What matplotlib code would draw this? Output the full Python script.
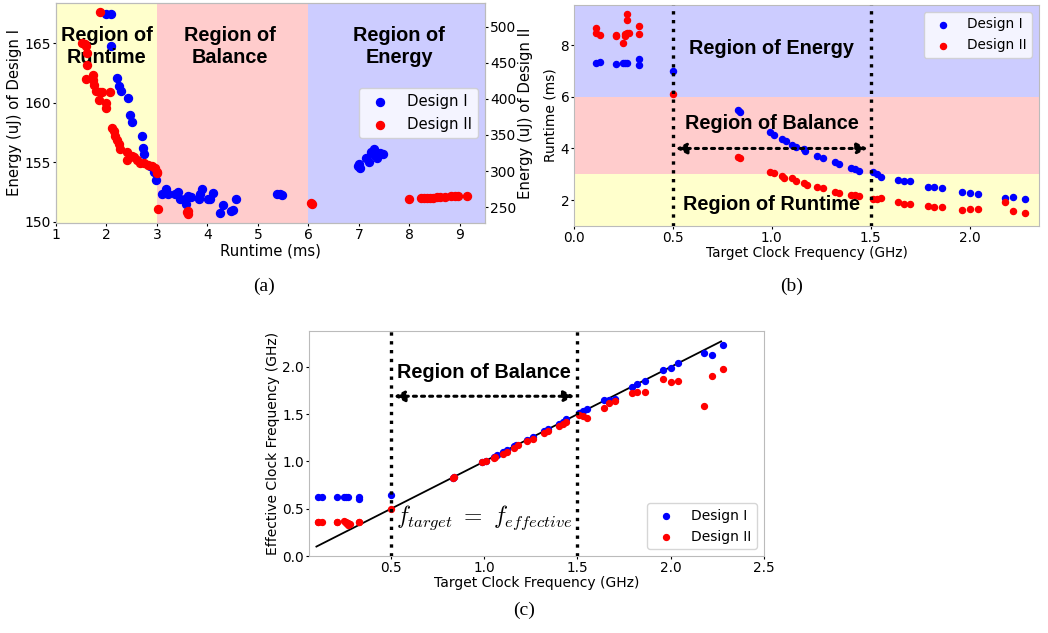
import matplotlib
matplotlib.use('Agg')
import matplotlib.pyplot as plt

plt.rcParams['font.family'] = 'DejaVu Sans'
plt.rcParams['mathtext.fontset'] = 'cm'

# ---- panel (a): runtime vs energy ----
rt_a1 = [1.99, 2.10, 2.09, 2.20, 2.25, 2.28, 2.42, 2.47, 2.50, 2.70,
         2.73, 2.74, 2.86, 2.94, 2.98, 3.11, 3.18, 3.22, 3.36, 3.42,
         3.45, 3.55, 3.58, 3.62, 3.68, 3.83, 3.86, 3.89, 4.02, 4.06,
         4.11, 4.25, 4.30, 4.46, 4.51, 4.57, 5.37, 5.43, 5.48, 6.98,
         7.00, 7.02, 7.15, 7.20, 7.24, 7.28, 7.31, 7.36, 7.41, 7.48]
en_a1 = [167.5, 167.5, 164.8, 162.1, 161.4, 161.0, 160.4, 159.0, 158.4, 157.2,
         156.2, 155.7, 154.7, 154.2, 153.5, 152.35, 152.8, 152.35, 152.35, 152.5,
         151.9, 151.9, 151.5, 152.2, 152.1, 151.9, 152.3, 152.8, 151.9, 151.9,
         152.4, 150.7, 151.4, 150.9, 151.0, 151.9, 152.35, 152.35, 152.25, 154.7,
         154.9, 154.5, 155.4, 155.0, 155.9, 155.7, 156.1, 155.4, 155.8, 155.7]
rt_a2 = [1.88, 1.51, 1.58, 1.60, 1.62, 1.62, 1.60, 1.73, 1.74, 1.75,
         1.80, 1.87, 1.92, 1.85, 2.07, 2.00, 2.00, 2.12, 2.14, 2.17,
         2.21, 2.24, 2.27, 2.40, 2.41, 2.50, 2.54, 2.60, 2.66, 2.74,
         2.83, 2.90, 2.96, 3.00, 3.01, 3.03, 3.60, 3.62, 3.61, 6.05,
         6.08, 8.00, 8.23, 8.29, 8.35, 8.41, 8.47, 8.55, 8.61, 8.70,
         8.83, 8.91, 8.97, 9.15]
en_a2 = [520, 478, 476, 474, 463, 447, 428, 433, 426, 419,
         411, 410, 409, 399, 409, 394, 387, 360, 355, 349,
         343, 337, 331, 327, 316, 321, 319, 315, 311, 311,
         308, 307, 304, 299, 297, 247, 243, 245, 240, 256,
         255, 261, 263, 263, 263, 263, 263, 264, 264, 264,
         265, 265, 265, 265]

# ---- panels (b), (c): target clock vs runtime / effective clock ----
freq1 = [0.11, 0.13, 0.21, 0.25, 0.26, 0.27, 0.33, 0.33, 0.50, 0.83,
         0.84, 0.99, 1.01, 1.05, 1.07, 1.10, 1.12, 1.16, 1.17, 1.23,
         1.26, 1.32, 1.34, 1.40, 1.42, 1.44, 1.51, 1.53, 1.55, 1.64,
         1.67, 1.70, 1.79, 1.82, 1.86, 1.96, 2.00, 2.04, 2.18, 2.22, 2.28]
runtime1 = [7.32, 7.35, 7.26, 7.29, 7.29, 7.29, 7.48, 7.23, 7.00, 5.50,
            5.41, 4.63, 4.54, 4.35, 4.28, 4.15, 4.06, 3.96, 3.90, 3.70,
            3.62, 3.47, 3.40, 3.26, 3.19, 3.13, 3.07, 3.00, 2.91, 2.77,
            2.76, 2.74, 2.51, 2.49, 2.46, 2.30, 2.29, 2.22, 2.09, 2.11, 2.03]
eff1 = [0.62, 0.62, 0.62, 0.62, 0.62, 0.62, 0.60, 0.62, 0.65, 0.83,
        0.84, 0.99, 1.01, 1.05, 1.07, 1.10, 1.12, 1.16, 1.17, 1.23,
        1.26, 1.32, 1.34, 1.40, 1.42, 1.45, 1.51, 1.53, 1.56, 1.645,
        1.65, 1.66, 1.79, 1.82, 1.85, 1.97, 1.99, 2.04, 2.15, 2.13, 2.23]

freq2 = [0.11, 0.11, 0.13, 0.21, 0.21, 0.25, 0.26, 0.26, 0.27, 0.27,
         0.27, 0.28, 0.33, 0.33, 0.50, 0.83, 0.84, 0.99, 1.01, 1.05,
         1.06, 1.10, 1.12, 1.16, 1.18, 1.23, 1.26, 1.32, 1.34, 1.40,
         1.42, 1.44, 1.51, 1.53, 1.55, 1.64, 1.67, 1.70, 1.79, 1.82,
         1.86, 1.96, 2.00, 2.04, 2.18, 2.22, 2.28]
runtime2 = [8.65, 8.45, 8.39, 8.41, 8.37, 8.09, 8.42, 8.35, 8.97, 9.20,
            8.45, 8.45, 8.74, 8.42, 6.09, 3.67, 3.63, 3.07, 3.04, 2.93,
            2.87, 2.85, 2.73, 2.65, 2.58, 2.49, 2.46, 2.33, 2.27, 2.19,
            2.19, 2.17, 2.03, 2.04, 2.08, 1.93, 1.87, 1.84, 1.77, 1.75,
            1.75, 1.61, 1.64, 1.64, 1.91, 1.59, 1.52]
eff2 = [0.36, 0.36, 0.36, 0.36, 0.36, 0.37, 0.36, 0.35, 0.34, 0.33,
        0.35, 0.34, 0.36, 0.36, 0.50, 0.83, 0.84, 0.99, 1.00, 1.04,
        1.05, 1.08, 1.10, 1.14, 1.17, 1.22, 1.24, 1.30, 1.32, 1.38,
        1.40, 1.42, 1.49, 1.48, 1.455, 1.57, 1.62, 1.64, 1.72, 1.73,
        1.735, 1.87, 1.84, 1.85, 1.59, 1.90, 1.98]

ideal_line = [0.10, 2.27]
balance_bounds = [0.5, 1.5]

spine_col = '#bbbbbb'
bold_font = dict(family='Liberation Sans', weight='bold', fontsize=14.3)


def style_axes(ax, size):
    for s in ax.spines.values():
        s.set_color(spine_col)
    ax.tick_params(labelsize=size, length=2, pad=1.5)


fig = plt.figure(figsize=(10.48, 6.33), dpi=100)

# ---------------- (a) ----------------
ax1 = fig.add_axes([0.0534, 0.6477, 0.4094, 0.3476])
ax1.axvspan(1, 3, color='yellow', alpha=0.2, lw=0)
ax1.axvspan(3, 6, color='red', alpha=0.2, lw=0)
ax1.axvspan(6, 9.5, color='blue', alpha=0.2, lw=0)
s1 = ax1.scatter(rt_a1, en_a1, color='blue', s=33, label='Design I')
ax1.set_xlim(1, 9.5)
ax1.set_ylim(149.9, 168.4)
ax1.set_xticks(range(1, 10))
ax1.set_yticks([150, 155, 160, 165])
ax1.set_xlabel('Runtime (ms)', fontsize=10.7, labelpad=1)
ax1.set_ylabel('Energy (uJ) of Design I', fontsize=10.7, labelpad=2)
ax1.text(2.0, 164.7, 'Region of\nRuntime', ha='center', va='center', **bold_font)
ax1.text(4.45, 164.7, 'Region of\nBalance', ha='center', va='center', **bold_font)
ax1.text(7.8, 164.7, 'Region of\nEnergy', ha='center', va='center', **bold_font)

ax1b = ax1.twinx()
s2 = ax1b.scatter(rt_a2, en_a2, color='red', s=33, label='Design II')
ax1b.set_ylim(228, 533)
ax1b.set_yticks([250, 300, 350, 400, 450, 500])
ax1b.set_ylabel('Energy (uJ) of Design II', fontsize=10.7, labelpad=1)
ax1b.legend(handles=[s1, s2], loc='center right', fontsize=10.7)
style_axes(ax1, 10)
style_axes(ax1b, 10)

# ---------------- (b) ----------------
ax2 = fig.add_axes([0.5477, 0.643, 0.4437, 0.349])
ax2.axhspan(1.0, 3, color='yellow', alpha=0.2, lw=0)
ax2.axhspan(3, 6, color='red', alpha=0.2, lw=0)
ax2.axhspan(6, 9.55, color='blue', alpha=0.2, lw=0)
ax2.scatter(freq1, runtime1, color='blue', s=19, label='Design I', zorder=3)
ax2.scatter(freq2, runtime2, color='red', s=19, label='Design II', zorder=3)
for b in balance_bounds:
    ax2.axvline(b, color='black', ls=':', lw=2.4, zorder=4)
ax2.annotate('', xy=(balance_bounds[1], 4.0), xytext=(balance_bounds[0], 4.0),
             arrowprops=dict(arrowstyle='<|-|>', ls=':', lw=2.2, color='black',
                             mutation_scale=16, shrinkA=2, shrinkB=2))
ax2.text(1.0, 7.85, 'Region of Energy', ha='center', va='center', **bold_font)
ax2.text(1.0, 4.97, 'Region of Balance', ha='center', va='center', **bold_font)
ax2.text(1.0, 1.84, 'Region of Runtime', ha='center', va='center', **bold_font)
ax2.set_xlim(0, 2.35)
ax2.set_ylim(1.0, 9.55)
ax2.set_xticks([0.0, 0.5, 1.0, 1.5, 2.0])
ax2.set_yticks([2, 4, 6, 8])
ax2.set_xlabel('Target Clock Frequency (GHz)', fontsize=9.8, labelpad=1)
ax2.set_ylabel('Runtime (ms)', fontsize=10, labelpad=2)
ax2.legend(loc='upper right', fontsize=9.8)
style_axes(ax2, 9.8)

# ---------------- (c) ----------------
ax3 = fig.add_axes([0.2948, 0.1216, 0.4342, 0.3555])
ax3.plot(ideal_line, ideal_line, color='black', lw=1.3, zorder=2)
ax3.scatter(freq1, eff1, color='blue', s=18, label='Design I', zorder=3)
ax3.scatter(freq2, eff2, color='red', s=18, label='Design II', zorder=3)
for b in balance_bounds:
    ax3.axvline(b, color='black', ls=':', lw=2.4, zorder=4)
ax3.annotate('', xy=(balance_bounds[1], 1.69), xytext=(balance_bounds[0], 1.69),
             arrowprops=dict(arrowstyle='<|-|>', ls=':', lw=2.2, color='black',
                             mutation_scale=16, shrinkA=2, shrinkB=2))
ax3.text(1.0, 1.94, 'Region of Balance', ha='center', va='center', **bold_font)
ax3.text(1.0, 0.41, r'$f_{target}\ =\ f_{effective}$', ha='center', va='center',
         fontsize=17)
ax3.set_xlim(0.06, 2.5)
ax3.set_ylim(0, 2.38)
ax3.set_xticks([0.5, 1.0, 1.5, 2.0, 2.5])
ax3.set_yticks([0.0, 0.5, 1.0, 1.5, 2.0])
ax3.set_xlabel('Target Clock Frequency (GHz)', fontsize=10, labelpad=1)
ax3.set_ylabel('Effective Clock Frequency (GHz)', fontsize=10, labelpad=2)
ax3.legend(loc='lower right', fontsize=10)
style_axes(ax3, 9.8)

# captions
fig.text(264 / 1048, 1 - 286 / 633, '(a)', ha='center', va='center',
         family='Liberation Serif', fontsize=14)
fig.text(792 / 1048, 1 - 286 / 633, '(b)', ha='center', va='center',
         family='Liberation Serif', fontsize=14)
fig.text(524 / 1048, 1 - 610 / 633, '(c)', ha='center', va='center',
         family='Liberation Serif', fontsize=14)

fig.savefig('out.png', dpi=100)
